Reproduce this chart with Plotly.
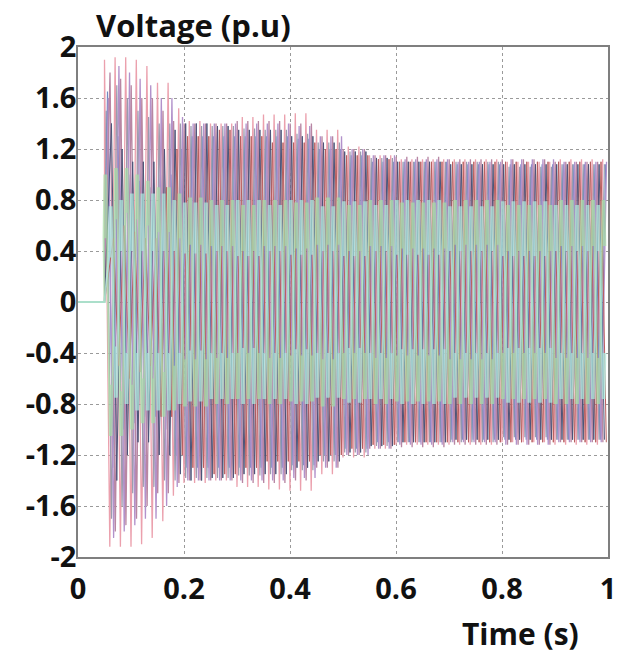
import numpy as np
import plotly.graph_objects as go

# ---------------- data ----------------
T_START = 0.05          # s, disturbance instant (all voltages 0 before)
T_END = 1.0
HALF_PERIOD = 0.01      # s (50 Hz)

# envelope key times (s)
ENV_T = [0.05, 0.06, 0.08, 0.10, 0.12, 0.15, 0.18, 0.20, 0.25, 0.30,
         0.35, 0.40, 0.45, 0.50, 0.55, 0.60, 0.70, 0.80, 0.90, 1.00]

# peak magnitude envelopes (p.u) of the outer phase voltages
SALMON_ENV = [1.90, 1.92, 1.92, 1.90, 1.85, 1.72, 1.52, 1.42, 1.40, 1.45,
              1.47, 1.48, 1.35, 1.22, 1.15, 1.12, 1.12, 1.10, 1.12, 1.10]
PURPLE_ENV = [1.60, 1.85, 1.80, 1.75, 1.70, 1.60, 1.45, 1.40, 1.40, 1.40,
              1.40, 1.38, 1.30, 1.20, 1.15, 1.12, 1.10, 1.12, 1.10, 1.12]
NAVY_ENV = [1.60, 1.40, 1.20, 1.10, 1.10, 1.20, 1.35, 1.40, 1.38, 1.35,
            1.35, 1.30, 1.25, 1.18, 1.13, 1.10, 1.08, 1.08, 1.08, 1.08]
GRAY_ENV = [1.50, 1.70, 1.60, 1.50, 1.45, 1.40, 1.40, 1.38, 1.38, 1.36,
            1.35, 1.32, 1.25, 1.18, 1.13, 1.10, 1.10, 1.06, 1.08, 1.06]
MAUVE_ENV = [1.70, 1.80, 1.75, 1.70, 1.60, 1.50, 1.42, 1.40, 1.40, 1.42,
             1.42, 1.40, 1.30, 1.20, 1.15, 1.14, 1.12, 1.12, 1.10, 1.10]
DARKRED_ENV = [0.30, 0.50, 0.60, 0.55, 0.50, 0.90, 1.20, 1.30, 1.35, 1.30,
               1.25, 1.25, 1.20, 1.15, 1.12, 1.10, 1.10, 1.10, 1.10, 1.10]
BLUE_ENV = [1.65, 1.30, 1.00, 0.95, 0.90, 1.00, 1.20, 1.30, 1.30, 1.30,
            1.30, 1.28, 1.20, 1.15, 1.10, 1.10, 1.08, 1.08, 1.08, 1.08]

# band voltages: outer and inner edge of the band (p.u)
GREEN_HI = [1.00, 1.05, 1.05, 1.00, 0.95, 0.90, 0.85, 0.82, 0.80, 0.76,
            0.80, 0.78, 0.82, 0.76, 0.80, 0.78, 0.80, 0.76, 0.80, 0.78]
GREEN_LO = [0.50, 0.65, 0.70, 0.65, 0.60, 0.55, 0.50, 0.45, 0.44, 0.40,
            0.44, 0.42, 0.45, 0.40, 0.44, 0.42, 0.45, 0.40, 0.44, 0.42]
CYAN_HI = [0.70, 0.75, 0.80, 0.85, 0.85, 0.85, 0.80, 0.78, 0.76, 0.80,
           0.76, 0.80, 0.75, 0.79, 0.76, 0.80, 0.75, 0.79, 0.76, 0.78]
CYAN_LO = [0.30, 0.35, 0.40, 0.40, 0.40, 0.40, 0.40, 0.38, 0.40, 0.36,
           0.40, 0.37, 0.40, 0.36, 0.40, 0.37, 0.40, 0.36, 0.40, 0.38]

SERIES_NAMES = ["Va1", "Vb1", "Vc1", "Va2", "Vb2", "Vc2", "Va3",
                "Vb3", "Vc3"]

X_TICKS = [0, 0.2, 0.4, 0.6, 0.8, 1.0]
X_TICK_TEXT = ["0", "0.2", "0.4", "0.6", "0.8", "1"]
Y_TICKS = [-2, -1.6, -1.2, -0.8, -0.4, 0, 0.4, 0.8, 1.2, 1.6, 2]
Y_TICK_TEXT = ["-2", "-1.6", "-1.2", "-0.8", "-0.4", "0", "0.4", "0.8",
               "1.2", "1.6", "2"]

# ---------------- helpers ----------------
ENV_T_ARR = np.array(ENV_T)


def env_at(env, t):
    i = int(np.searchsorted(ENV_T_ARR, t, side="right")) - 1
    i = max(0, min(i, len(env) - 1))
    return env[i]


def outer_wave(env, phase):
    ts, ys = [0.0, T_START], [0.0, 0.0]
    t = T_START + phase * 2 * HALF_PERIOD
    sign = 1
    while t <= T_END:
        ts.append(t)
        ys.append(sign * env_at(env, t))
        sign = -sign
        t += HALF_PERIOD
    return ts, ys


def band_wave(hi, lo, phase):
    ts, ys = [0.0, T_START], [0.0, 0.0]
    t = T_START + phase * 2 * HALF_PERIOD
    sign = 1
    q = HALF_PERIOD / 6
    while t <= T_END:
        a, b = env_at(hi, t), env_at(lo, t)
        for dt, v in ((-2 * q, b), (-q, a), (0, b), (q, a), (2 * q, b)):
            if t + dt <= T_END:
                ts.append(t + dt)
                ys.append(sign * v)
        sign = -sign
        t += HALF_PERIOD
    return ts, ys


# ---------------- styles ----------------
OUTER = [
    (SALMON_ENV, 0.00, "#eba0ad", 1.3),
    (GRAY_ENV, 0.16, "#9a9cae", 1.2),
    (BLUE_ENV, 0.28, "#7088c0", 1.1),
    (PURPLE_ENV, 0.36, "#b292cb", 1.3),
    (MAUVE_ENV, 0.52, "#b886a3", 1.3),
    (NAVY_ENV, 0.66, "#4c5478", 1.0),
    (DARKRED_ENV, 0.84, "#b86060", 1.0),
]
BAND = [
    (GREEN_HI, GREEN_LO, 0.08, "#a8e0a8", 2.0, 0.7),
    (CYAN_HI, CYAN_LO, 0.58, "#aeeee0", 2.0, 0.7),
]

fig = go.Figure()
k = 0
for env, ph, col, w in OUTER:
    x, y = outer_wave(env, ph)
    fig.add_trace(go.Scatter(x=x, y=y, mode="lines", name=SERIES_NAMES[k],
                             line=dict(color=col, width=w)))
    k += 1
for hi, lo, ph, col, w, op in BAND:
    x, y = band_wave(hi, lo, ph)
    fig.add_trace(go.Scatter(x=x, y=y, mode="lines", name=SERIES_NAMES[k],
                             opacity=op, line=dict(color=col, width=w)))
    k += 1

FONT = "Open Sans"
axis_common = dict(
    showgrid=True, gridcolor="#9a9a9a", gridwidth=1, griddash="dot",
    showline=True, linecolor="#7f7f7f", linewidth=1.5, mirror=True,
    zeroline=False, ticks="", ticklen=0, automargin=False,
    tickfont=dict(family=FONT, size=29, color="#111111", weight="bold"),
)

PLOT_L, PLOT_R, PLOT_T, PLOT_B = 78, 608, 47, 557


def px_x(p):
    return (p - PLOT_L) / (PLOT_R - PLOT_L)


def px_y(p):
    return (PLOT_B - p) / (PLOT_B - PLOT_T)


fig.update_layout(
    width=618, height=657,
    margin=dict(l=PLOT_L, r=618 - PLOT_R, t=PLOT_T, b=657 - PLOT_B),
    paper_bgcolor="white", plot_bgcolor="white",
    showlegend=False,
    xaxis=dict(range=[0, 1], tickvals=X_TICKS, ticktext=X_TICK_TEXT,
               ticklabelstandoff=5, **axis_common),
    yaxis=dict(range=[-2, 2], tickvals=Y_TICKS, ticktext=Y_TICK_TEXT,
               ticklabelstandoff=-6, **axis_common),
    annotations=[
        dict(text="Voltage (p.u)", x=px_x(95), y=px_y(25), xref="paper",
             yref="paper", xanchor="left", yanchor="middle", showarrow=False,
             borderpad=0,
             font=dict(family=FONT, size=31, color="#111111",
                       weight="bold")),
        dict(text="Time (s)", x=px_x(520), y=px_y(633), xref="paper",
             yref="paper", xanchor="center", yanchor="middle",
             showarrow=False, borderpad=0,
             font=dict(family=FONT, size=30, color="#111111",
                       weight="bold")),
    ],
)

fig.write_html(
    "out.html",
    config={"displayModeBar": False},
    post_script="document.body.style.margin='0';"
                "document.body.style.overflow='hidden';",
)
